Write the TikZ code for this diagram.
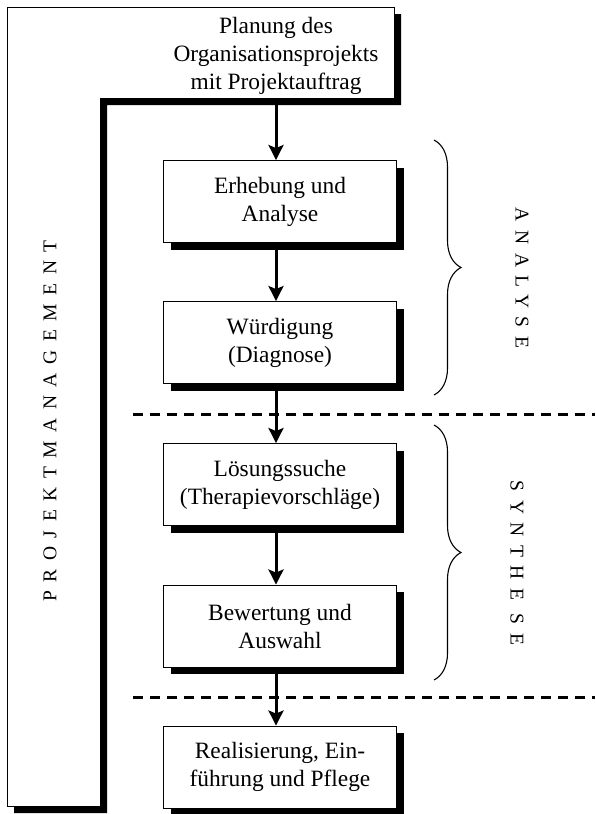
\documentclass[tikz,border=0pt]{standalone}
\usepackage{fontspec}
\setmainfont{Liberation Serif}
\newfontfamily\spaced[LetterSpace=44]{Liberation Serif}
\usetikzlibrary{arrows.meta,shadows,decorations.pathreplacing}

\tikzset{
  blackshadow/.style={drop shadow={shadow xshift=7pt, shadow yshift=-7pt, fill=black, opacity=1}},
  box/.style={draw, line width=0.9pt, fill=white, blackshadow, minimum width=233pt, minimum height=82pt, align=center, inner sep=0pt},
  flow/.style={line width=3pt, -{Stealth[width=15pt, length=15pt, inset=3pt]}},
  sep/.style={line width=3pt, dash pattern=on 10pt off 7pt},
  curly/.style={line width=1.1pt, decorate, decoration={brace, amplitude=27pt, aspect=0.5}},
  vlabel/.style={font=\spaced\fontsize{19.5}{23}\selectfont}
}

\begin{document}
\begin{tikzpicture}[x=1pt, y=-1pt, font=\fontsize{23.4}{28}\selectfont]
		\useasboundingbox (0,0) rectangle (595,814);
		% L-shaped frame
		\draw [line width=0.9pt, fill=white, blackshadow] (7,7) -- (394,7) -- (394,98) -- (100,98) -- (100,806) -- (7,806) -- cycle;
		\node [align=center] (0) at (276,56) {Planung des\\Organisationsprojekts\\mit Projektauftrag};
		\node [vlabel, rotate=90] (pm) at (50,421) {PROJEKTMANAGEMENT};
		\node [box] (1) at (280,201.5) {Erhebung und\\Analyse};
		\node [box] (2) at (280,342.5) {Würdigung\\(Diagnose)};
		\node [box] (3) at (280,484.5) {Lösungssuche\\(Therapievorschläge)};
		\node [box] (4) at (280,626) {Bewertung und\\Auswahl};
		\node [box] (5) at (280,767) {Realisierung, Ein-\\führung und Pflege};
		\coordinate (la) at (276,98);
		\draw [flow] (la) to (1.north -| la);
		\draw [flow] (1.south -| la) to (2.north -| la);
		\draw [flow] (2.south -| la) to (3.north -| la);
		\draw [flow] (3.south -| la) to (4.north -| la);
		\draw [flow] (4.south -| la) to (5.north -| la);
		% phase separators
		\coordinate (6) at (133,414);
		\coordinate (7) at (595,414);
		\coordinate (8) at (133,697);
		\coordinate (9) at (595,697);
		\draw [sep] (6) to (7);
		\draw [sep] (8) to (9);
		% braces
		\coordinate (10) at (434,140);
		\coordinate (11) at (434,395);
		\coordinate (12) at (434,425);
		\coordinate (13) at (434,680);
		\draw [curly] (10) to (11);
		\draw [curly] (12) to (13);
		\node [vlabel, rotate=-90] (ana) at (522,278) {ANALYSE};
		\node [vlabel, rotate=-90] (syn) at (517,563) {SYNTHE SE};
\end{tikzpicture}
\end{document}
